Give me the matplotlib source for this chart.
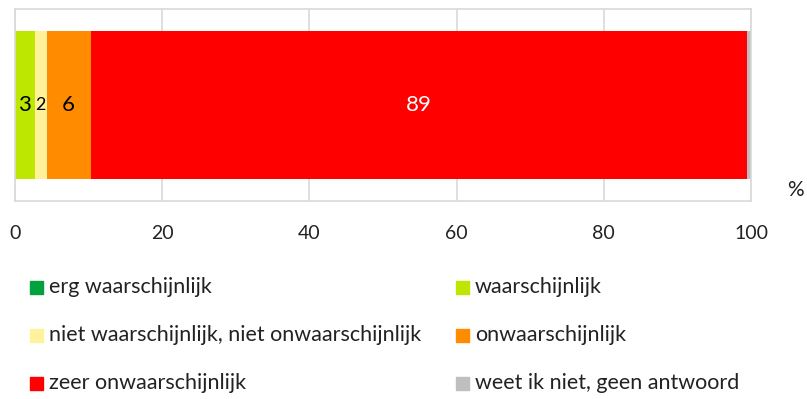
import matplotlib.pyplot as plt
from matplotlib.patches import Rectangle

plt.rcParams['font.family'] = ['Lato', 'DejaVu Sans']

categories = [
    'erg waarschijnlijk',
    'waarschijnlijk',
    'niet waarschijnlijk, niet onwaarschijnlijk',
    'onwaarschijnlijk',
    'zeer onwaarschijnlijk',
    'weet ik niet, geen antwoord',
]
values = [0.0, 2.7, 1.6, 6.0, 89.1, 0.6]
colors = ['#00a13e', '#bde600', '#fff29b', '#ff8c00', '#ff0000', '#bfbfbf']
label_colors = ['black', 'black', 'black', 'black', 'white', 'black']
xticks = [0, 20, 40, 60, 80, 100]

fig = plt.figure(figsize=(8.07, 3.99), dpi=100)
ax = fig.add_axes([15 / 807, 1 - 201 / 399, 736 / 807, 192 / 399])

left = 0.0
for val, col, lc in zip(values, colors, label_colors):
    ax.barh(0, val, left=left, height=0.775, color=col, zorder=2)
    if val >= 1.5:
        ax.text(left + val / 2, 0, f'{val:.0f}', ha='center', va='center',
                color=lc, fontsize=16 if val >= 2.5 else 13, zorder=3)
    left += val

ax.set_xlim(0, 100)
ax.set_ylim(-0.5, 0.5)
ax.set_yticks([])
ax.set_xticks(xticks)
ax.tick_params(axis='x', length=0, pad=17, labelsize=14, labelcolor='#222222')
ax.grid(axis='x', color='#d9d9d9', linewidth=1.2, zorder=0)
for sp in ax.spines.values():
    sp.set_color('#d9d9d9')
    sp.set_linewidth(1.2)

fig.text(795 / 807, 1 - 190 / 399, '%', ha='center', va='center',
         fontsize=15, color='#222222')

# legend in two columns, filled row by row
for i, (cat, col) in enumerate(zip(categories, colors)):
    row, c = divmod(i, 2)
    x0 = 30 + c * 426
    y0 = 287 + row * 48
    fig.patches.append(Rectangle((x0 / 807, 1 - (y0 + 6.5) / 399), 13 / 807, 13 / 399,
                                 transform=fig.transFigure, color=col))
    fig.text((x0 + 19) / 807, 1 - y0 / 399, cat, ha='left', va='center',
             fontsize=15.5, color='#222222')

fig.savefig('out.png', dpi=100)
